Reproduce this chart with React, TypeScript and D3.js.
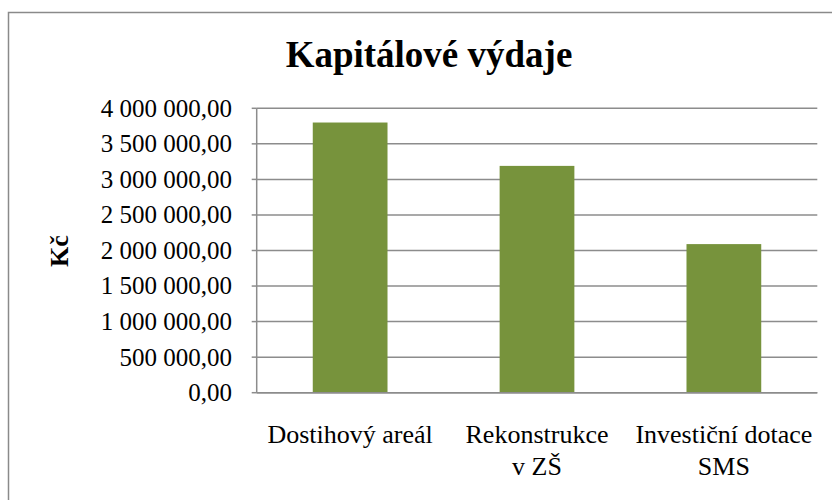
import React from "react";
import * as d3 from "d3";

const categories: string[][] = [["Dostihový areál"], ["Rekonstrukce", "v ZŠ"], ["Investiční dotace", "SMS"]];
const values: number[] = [3800000, 3190000, 2090000];
const yTicks: number[] = [0, 500000, 1000000, 1500000, 2000000, 2500000, 3000000, 3500000, 4000000];
const title = "Kapitálové výdaje";
const yTitle = "Kč";

const W = 832;
const H = 500;
const plot = { left: 256.7, right: 817.3, top: 108.3, bottom: 392.7 };
const FONT = "Liberation Serif";

const fmt = (v: number) => {
  const s = Math.round(v).toString().replace(/\B(?=(\d{3})+(?!\d))/g, " ");
  return s + ",00";
};

export default function App() {
  const x = d3
    .scaleBand<number>()
    .domain(values.map((_, i) => i))
    .range([plot.left, plot.right])
    .paddingInner(0.6)
    .paddingOuter(0.3);
  const y = d3.scaleLinear().domain([0, 4000000]).range([plot.bottom, plot.top]);
  const grid = "#8c8c8c";
  return (
    <svg width={W} height={H} style={{ position: "absolute", left: 0, top: 0 }}>
      <style>{`text, tspan { font-family: "Liberation Serif", "Times New Roman", serif; }`}</style>
      <rect x={8.5} y={12.5} width={850} height={520} fill="#fff" stroke="#8a8a8a" strokeWidth={1.5} />
      <text x={429} y={67} textAnchor="middle" fontSize={37} fontWeight="bold" fill="#000" fontFamily={FONT}>
        {title}
      </text>
      {yTicks.map((t) => (
        <g key={t}>
          <line x1={plot.left} x2={plot.right} y1={y(t)} y2={y(t)} stroke={grid} strokeWidth={1.5} />
          <line x1={plot.left - 5} x2={plot.left} y1={y(t)} y2={y(t)} stroke={grid} strokeWidth={1.5} />
          <text x={232} y={y(t) + 8.4} textAnchor="end" fontSize={25} fill="#000" fontFamily={FONT}>
            {fmt(t)}
          </text>
        </g>
      ))}
      <line x1={plot.left} x2={plot.left} y1={plot.top} y2={plot.bottom} stroke={grid} strokeWidth={1.5} />
      {values.map((v, i) => (
        <rect key={i} x={x(i)} y={y(v)} width={x.bandwidth()} height={y(0) - y(v)} fill="#77933C" />
      ))}
      <line x1={plot.left} x2={plot.right} y1={plot.bottom} y2={plot.bottom} stroke={grid} strokeWidth={1.5} />
      {categories.map((lines, i) =>
        lines.map((l, j) => (
          <text
            key={`${i}-${j}`}
            x={(x(i) as number) + x.bandwidth() / 2}
            y={443 + j * 32}
            textAnchor="middle"
            fontSize={26}
            fill="#000"
            fontFamily={FONT}
          >
            {l}
          </text>
        ))
      )}
      <text transform={`translate(68,251) rotate(-90)`} textAnchor="middle" fontSize={26} fontWeight="bold" fill="#000" fontFamily={FONT}>
        {yTitle}
      </text>
    </svg>
  );
}
